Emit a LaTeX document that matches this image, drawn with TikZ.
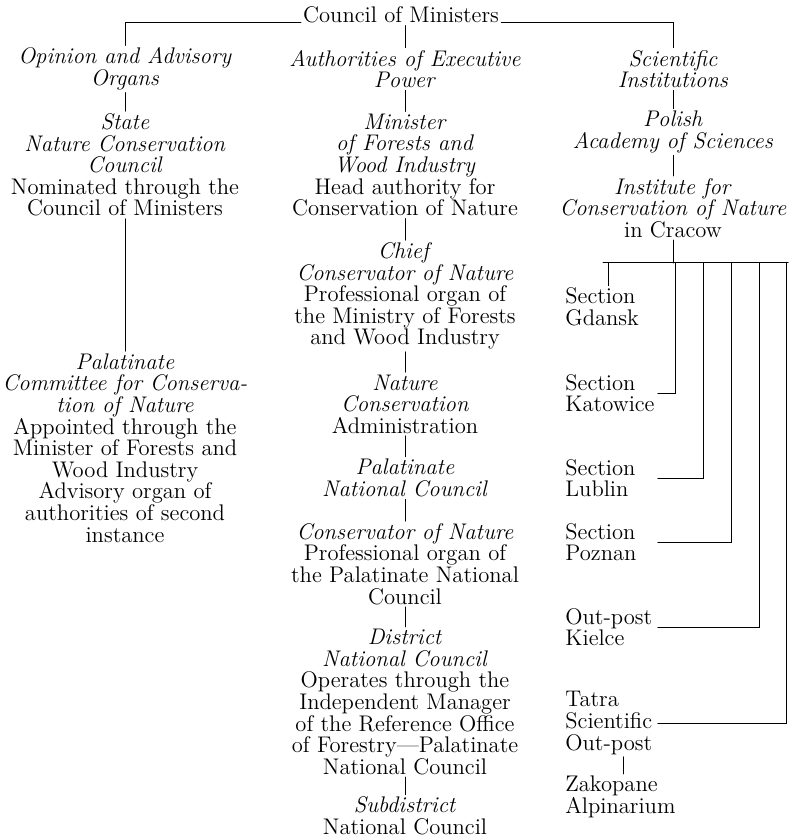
\documentclass[tikz,border=0pt]{standalone}
\usepackage{tikz}
\usetikzlibrary{calc}
\tikzset{unit/.style={align=center, inner sep=1pt},
	sect/.style={align=left, text width=45pt, inner sep=1pt, anchor=west},
	link/.style={line width=0.5pt, line cap=round}}

\begin{document}
\begin{tikzpicture}[x=0.5pt, y=-0.5pt]
		\fontsize{11.3}{10.8}\selectfont
		\useasboundingbox (0,0) rectangle (790,839);
		\node[unit] (top) at (401,15) {Council of Ministers};
		
		% left column
		\node[unit] (opin) at (125,69) {\textit{Opinion and Advisory}\\\textit{Organs}};
		\node[unit] (state) at (125,165) {\textit{State}\\\textit{Nature Conservation}\\\textit{Council}\\Nominated through the\\Council of Ministers};
		\node[unit] (palat) at (125,448) {\textit{Palatinate}\\\textit{Committee for Conserva-}\\\textit{tion of Nature}\\Appointed through the\\Minister of Forests and\\Wood Industry\\Advisory organ of\\authorities of second\\instance};
		
		% middle column
		\node[unit] (auth) at (405,69) {\textit{Authorities of Executive}\\\textit{Power}};
		\node[unit] (minis) at (405,165) {\textit{Minister}\\\textit{of Forests and}\\\textit{Wood Industry}\\Head authority for\\Conservation of Nature};
		\node[unit] (chief) at (405,296) {\textit{Chief}\\\textit{Conservator of Nature}\\Professional organ of\\the Ministry of Forests\\and Wood Industry};
		\node[unit] (admin) at (405,404) {\textit{Nature}\\\textit{Conservation}\\Administration};
		\node[unit] (palnc) at (405,478) {\textit{Palatinate}\\\textit{National Council}};
		\node[unit] (consv) at (405,564) {\textit{Conservator of Nature}\\Professional organ of\\the Palatinate National\\Council};
		\node[unit] (distr) at (405,702) {\textit{District}\\\textit{National Council}\\Operates through the\\Independent Manager\\of the Reference Office\\of Forestry\textemdash Palatinate\\National Council};
		\node[unit] (subd) at (405,816) {\textit{Subdistrict}\\National Council};
		
		% right column
		\node[unit] (sci) at (673,69) {\textit{Scientific}\\\textit{Institutions}};
		\node[unit] (polish) at (673,132) {\textit{Polish}\\\textit{Academy of Sciences}};
		\node[unit] (inst) at (673,208) {\textit{Institute for}\\\textit{Conservation of Nature}\\in Cracow};
		\node[sect] (gdansk) at (563,307) {Section\\Gdansk};
		\node[sect] (katow) at (563,393) {Section\\Katowice};
		\node[sect] (lublin) at (563,478) {Section\\Lublin};
		\node[sect] (poznan) at (563,542) {Section\\Poznan};
		\node[sect] (kielce) at (563,627) {Out-post\\Kielce};
		\node[sect] (tatra) at (563,723) {Tatra\\Scientific\\Out-post};
		\node[sect] (zakop) at (563,797) {Zakopane\\Alpinarium};
		
		\draw[link] (top.base west) -| (opin.north);
		\draw[link] (top.base east) -| (sci.north);
		\draw[link] (top.south -| auth) -- (auth);
		\draw[link] (opin) -- (state);
		\draw[link] (state) -- (palat);
		\draw[link] (auth) -- (minis);
		\draw[link] (minis) -- (chief);
		\draw[link] (chief) -- (admin);
		\draw[link] (admin) -- (palnc);
		\draw[link] (palnc) -- (consv);
		\draw[link] (consv) -- (distr);
		\draw[link] (distr) -- (subd);
		\draw[link] (sci) -- (polish);
		\draw[link] (polish) -- (inst);
		
		% branches of the institute
		\coordinate (busL) at (603,263);
		\coordinate (busR) at (788,263);
		\coordinate (d1) at (608,263);
		\coordinate (d2) at (675,263);
		\coordinate (d3) at (703,263);
		\coordinate (d4) at (731,263);
		\coordinate (d5) at (759,263);
		\coordinate (d6) at (786,263);
		\coordinate (zx) at (623,0);
		\draw[link] (busL) -- (busR);
		\draw[link] (inst) -- (inst |- busL);
		\draw[link] (d1) -- (d1 |- gdansk.north);
		\draw[link] (d2) |- (katow.east);
		\draw[link] (d3) |- (lublin.east);
		\draw[link] (d4) |- (poznan.east);
		\draw[link] (d5) |- (kielce.east);
		\draw[link] (d6) |- (tatra.east);
		\draw[link] (tatra.south -| zx) -- (zakop.north -| zx);
	\end{tikzpicture}
\end{document}
